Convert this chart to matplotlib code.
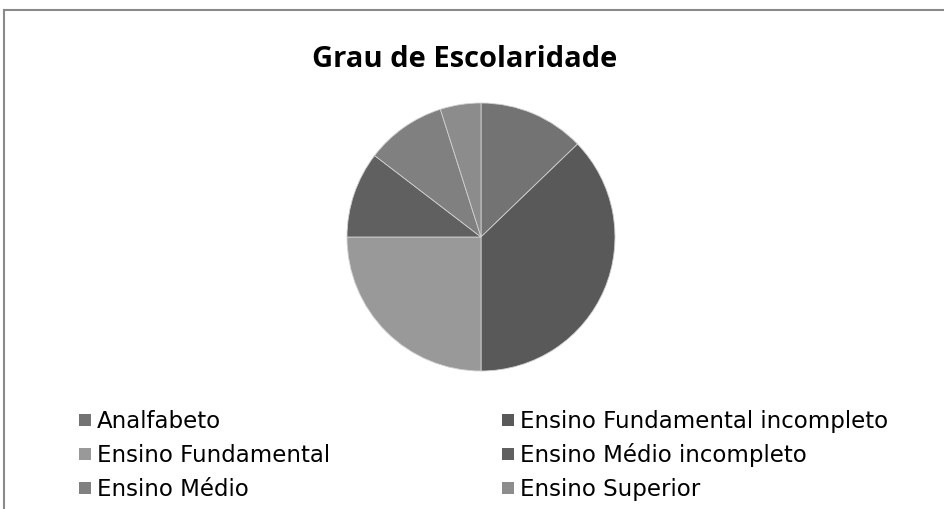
import matplotlib.pyplot as plt
from matplotlib.patches import Rectangle
from matplotlib.lines import Line2D

categories = [
    "Analfabeto",
    "Ensino Fundamental incompleto",
    "Ensino Fundamental",
    "Ensino Médio incompleto",
    "Ensino Médio",
    "Ensino Superior",
]
values = [12.8, 37.2, 25.0, 10.4, 9.7, 4.9]
colors = ["#737373", "#595959", "#999999", "#606060", "#808080", "#8c8c8c"]

W, H = 944, 509
fig = plt.figure(figsize=(W / 100, H / 100), dpi=100)
fig.patch.set_facecolor("white")

# outer frame (only left and top edges visible)
fig.add_artist(Line2D([4 / W, 4 / W], [0, 1 - 10 / H], color="#8a8a8a", lw=1.5))
fig.add_artist(Line2D([4 / W, 1], [1 - 10 / H, 1 - 10 / H], color="#8a8a8a", lw=1.5))

# pie
cx, cy, r = 481, 237, 134
ax = fig.add_axes([(cx - r) / W, 1 - (cy + r) / H, 2 * r / W, 2 * r / H])
ax.pie(values, colors=colors, startangle=90, counterclock=False,
       wedgeprops=dict(edgecolor="#d0d0d0", linewidth=0.6))
ax.set_xlim(-1, 1)
ax.set_ylim(-1, 1)
ax.set_aspect("equal")
ax.axis("off")

fig.text(465 / W, 1 - 67 / H, "Grau de Escolaridade", ha="center", va="baseline",
         fontsize=21, fontweight="bold", family="Open Sans", color="black")

# legend, filled row by row
col_x = [79, 502]
row_base = [428, 462, 496]
for i, (name, c) in enumerate(zip(categories, colors)):
    x = col_x[i % 2]
    yb = row_base[i // 2]
    fig.add_artist(Rectangle((x / W, 1 - (yb - 2) / H), 12 / W, 12 / H,
                             transform=fig.transFigure, facecolor=c, edgecolor="none"))
    fig.text((x + 18) / W, 1 - yb / H, name, ha="left", va="baseline",
             fontsize=16.5, family="DejaVu Sans", color="black")

fig.savefig("out.png", dpi=100)
